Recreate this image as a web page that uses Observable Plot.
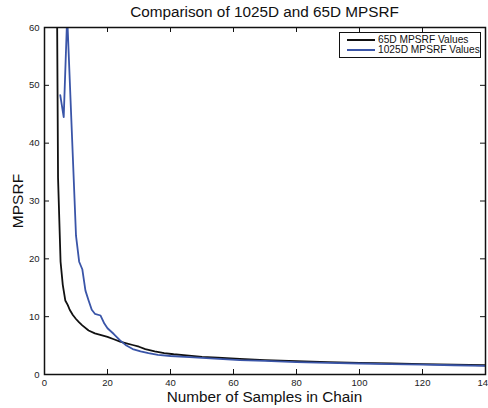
<!DOCTYPE html>
<html><head><meta charset="utf-8">
<script src="https://cdn.jsdelivr.net/npm/d3@7"></script>
<script src="https://cdn.jsdelivr.net/npm/@observablehq/plot@0.6"></script>
<style>
html,body{margin:0;padding:0;background:#fff;overflow:hidden;}
#wrap{position:relative;width:488px;height:408px;font-family:"Liberation Sans",Arial,Helvetica,sans-serif;}
.t{position:absolute;white-space:nowrap;color:#111;line-height:0.75;transform:translate(-50%,-50%);}
#legend{position:absolute;background:#fff;border:1px solid #111;box-sizing:border-box;}
.lrow{position:absolute;left:0;height:10px;}
.lsw{position:absolute;height:0;border-top:2px solid;}
.ltx{position:absolute;font-size:10.2px;line-height:10px;color:#111;white-space:nowrap;}
</style></head><body><div id="wrap"></div>
<script>
const title = "Comparison of 1025D and 65D MPSRF";
const xLabel = "Number of Samples in Chain";
const yLabel = "MPSRF";
const seriesNames = ["65D MPSRF Values", "1025D MPSRF Values"];
const seriesColors = ["#111111", "#3a55a8"];
const xTicks = [0, 20, 40, 60, 80, 100, 120, 140];
const yTicks = [0, 10, 20, 30, 40, 50, 60];

const samples65 = [4.0, 4.3, 5.1, 5.8, 6.6, 7.4, 8.0, 9.0, 10.0, 11.0, 12.0, 14, 16, 18, 20, 22, 24, 26, 28, 30, 32, 35, 38, 41, 45, 50, 55, 62, 70, 80, 90, 100, 110, 120, 130, 140];
const mpsrf65 = [62, 34, 19.5, 15.5, 12.8, 12.0, 11.2, 10.3, 9.6, 9.0, 8.5, 7.6, 7.1, 6.8, 6.5, 6.1, 5.7, 5.4, 5.1, 4.8, 4.4, 4.0, 3.7, 3.5, 3.3, 3.05, 2.9, 2.7, 2.5, 2.3, 2.15, 2.0, 1.9, 1.8, 1.7, 1.6];

const samples1025 = [5.0, 6.1, 7.2, 10.0, 11.0, 12.0, 13.0, 14.0, 15.0, 16.0, 17.8, 19.0, 20.0, 22, 24, 26, 28, 30.5, 33, 36, 40, 46, 54, 62, 70, 80, 90, 100, 110, 120, 130, 140];
const mpsrf1025 = [48.3, 44.5, 62, 24.0, 19.5, 18.2, 14.5, 12.8, 11.2, 10.5, 10.2, 8.8, 8.0, 7.0, 5.9, 5.0, 4.4, 4.0, 3.7, 3.4, 3.2, 3.0, 2.75, 2.5, 2.35, 2.15, 2.0, 1.9, 1.8, 1.7, 1.6, 1.5];

const rows65 = samples65.map((x, i) => ({x, y: mpsrf65[i]}));
const rows1025 = samples1025.map((x, i) => ({x, y: mpsrf1025[i]}));

const W = 488, H = 408, mL = 44, mR = 3, mT = 27, mB = 34;
const pw = W - mL - mR, ph = H - mT - mB;
const font = '"Liberation Sans", Arial, Helvetica, sans-serif';

const chart = Plot.plot({
  width: W, height: H,
  marginLeft: mL, marginRight: mR, marginTop: mT, marginBottom: mB,
  style: {fontFamily: font, fontSize: "9.5px", color: "#222", background: "white", overflow: "visible"},
  x: {domain: [0, 140], ticks: []},
  y: {domain: [0, 60], ticks: []},
  marks: [
    Plot.line(rows65, {x: "x", y: "y", stroke: seriesColors[0], strokeWidth: 1.8, clip: true}),
    Plot.line(rows1025, {x: "x", y: "y", stroke: seriesColors[1], strokeWidth: 1.8, clip: true}),
    Plot.tickY(yTicks, {y: d => d, insetRight: pw - 5, stroke: "#111"}),
    Plot.tickY(yTicks, {y: d => d, insetLeft: pw - 5, stroke: "#111"}),
    Plot.tickX(xTicks, {x: d => d, insetTop: ph - 5, stroke: "#111"}),
    Plot.tickX(xTicks, {x: d => d, insetBottom: ph - 5, stroke: "#111"}),
    Plot.axisX(xTicks, {tickSize: 0, tickPadding: 5, label: null, fill: "#222"}),
    Plot.axisY(yTicks, {tickSize: 0, tickPadding: 5, label: null, fill: "#222"}),
    Plot.frame({stroke: "#111", strokeWidth: 1.5})
  ]
});

const wrap = document.getElementById("wrap");
wrap.appendChild(chart);

function addText(txt, cx, cy, size, rot) {
  const d = document.createElement("div");
  d.className = "t";
  d.textContent = txt;
  d.style.left = cx + "px";
  d.style.top = cy + "px";
  d.style.fontSize = size + "px";
  if (rot) d.style.transform = "translate(-50%,-50%) rotate(-90deg)";
  wrap.appendChild(d);
}
const cxPlot = mL + pw / 2;
addText(title, cxPlot, 12, 15.3);
addText(xLabel, cxPlot, 397, 15.3);
addText(yLabel, 17.5, mT + ph / 2, 15.5, true);

const lg = document.createElement("div");
lg.id = "legend";
lg.style.left = "339px"; lg.style.top = "32px";
lg.style.width = "142px"; lg.style.height = "26px";
seriesNames.forEach((name, i) => {
  const row = document.createElement("div");
  row.className = "lrow";
  row.style.top = (2 + i * 9.7) + "px";
  const sw = document.createElement("div");
  sw.className = "lsw";
  sw.style.left = "7px"; sw.style.width = "28px"; sw.style.top = "4px";
  sw.style.borderTopColor = seriesColors[i];
  const tx = document.createElement("div");
  tx.className = "ltx";
  tx.style.left = "38px"; tx.style.top = "0px";
  tx.textContent = name;
  row.appendChild(sw); row.appendChild(tx);
  lg.appendChild(row);
});
wrap.appendChild(lg);
</script></body></html>
